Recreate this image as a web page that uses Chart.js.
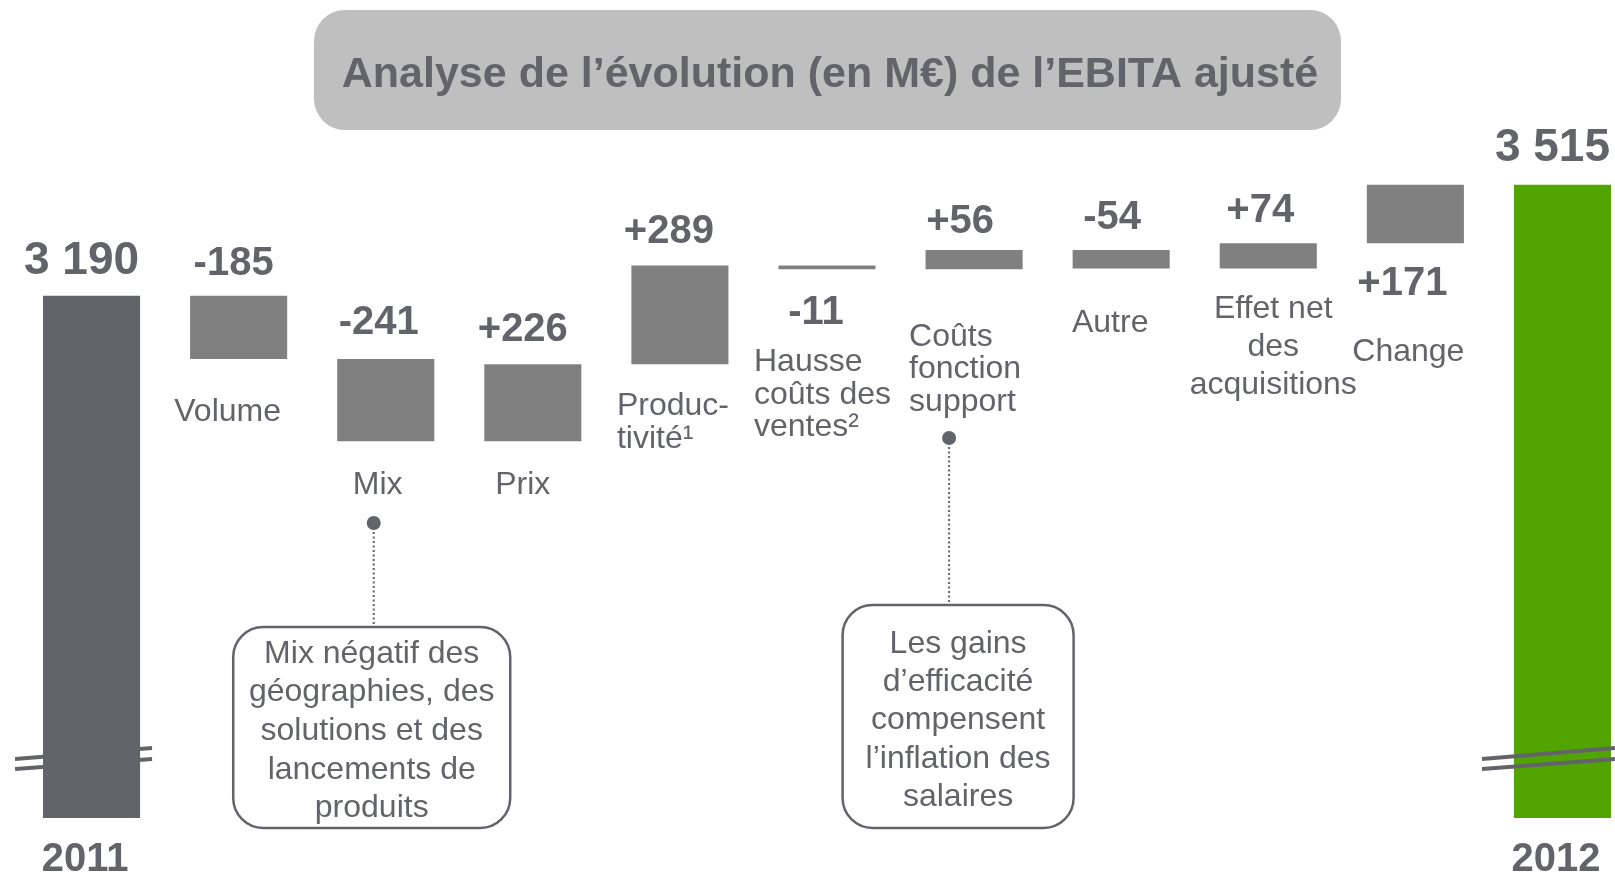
<!DOCTYPE html>
<html lang="fr">
<head>
    <meta charset="UTF-8">
    <meta name="viewport" content="width=device-width, initial-scale=1.0">
    <title>Analyse de l’évolution (en M€) de l’EBITA ajusté</title>

    <script src="https://cdn.jsdelivr.net/npm/chart.js"></script>

    <style>
        html, body { margin: 0; padding: 0; background: #fff; overflow: hidden; }
        #wrap { position: absolute; left: 0; top: 0; width: 1640px; height: 872px; }
    </style>
</head>

<body>

<div id="wrap"><canvas id="ebitaChart"></canvas></div>

<script>
    // ---- data ----
    const title = 'Analyse de l’évolution (en M€) de l’EBITA ajusté';
    const categories = ['2011', 'Volume', 'Mix', 'Prix', 'Productivité', 'Hausse coûts des ventes',
                        'Coûts fonction support', 'Autre', 'Effet net des acquisitions', 'Change', '2012'];
    const labelLines = [
        ['2011'], ['Volume'], ['Mix'], ['Prix'], ['Produc-', 'tivité¹'],
        ['Hausse', 'coûts des', 'ventes²'], ['Coûts', 'fonction', 'support'], ['Autre'],
        ['Effet net', 'des', 'acquisitions'], ['Change'], ['2012']
    ];
    const startValue = 3190;   // 2011
    const endValue = 3515;     // 2012
    const deltas = [-185, -241, 226, 289, -11, 56, -54, 74, 171];
    const noteMix = ['Mix négatif des', 'géographies, des', 'solutions et des', 'lancements de', 'produits'];
    const noteCosts = ['Les gains', 'd’efficacité', 'compensent', 'l’inflation des', 'salaires'];

    // floating bars built from the values
    const bars = [[0, startValue]];
    let running = startValue;
    deltas.forEach(d => { bars.push([running, running + d]); running += d; });
    bars.push([0, endValue]);

    const TEXT = '#636469';
    const FONT = '"Liberation Sans", Arial, sans-serif';
    const barColors = categories.map((c, i) =>
        i === 0 ? '#636469' : (i === categories.length - 1 ? '#52A500' : '#808080'));

    // ---- label layout (offsets from each bar) ----
    const labelLayout = [
        { year: true, dx: -6.5 },
        { align: 'center', dx: -11, dy: [53] },
        { align: 'center', dx: -8, dy: [44] },
        { align: 'center', dx: -10, dy: [44] },
        { align: 'left', dx: -63, dy: [42, 75] },
        { align: 'left', dx: -73, dy: [93, 126, 158] },
        { align: 'left', dx: -65, dy: [68, 100, 133] },
        { align: 'center', dx: -11, dy: [55] },
        { align: 'center', dx: 5, dy: [41, 79, 117] },
        { align: 'center', dx: -7, dy: [109] },
        { year: true, dx: -6.5 }
    ];
    const valueBelow = [5, 9];   // -11 and +171 sit under their bars
    const valueGap = [35, 32, 36, 34, 33, 44, 28, 32, 32, 41, 37];
    const valueDx = [-10, -5, -7, -10, -11, -11, -14, -9, -8, -13, -10];

    const callouts = [
        { index: 2, dotDx: -12, dotY: 523, boxDx: -14, top: 627, bottom: 828, width: 277, firstY: 654, step: 38.6, lines: noteMix },
        { index: 6, dotDx: -25, dotY: 438, boxDx: -16, top: 605, bottom: 828, width: 231, firstY: 644, step: 38.3, lines: noteCosts }
    ];

    function roundRectPath(ctx, x, y, w, h, r) {
        ctx.beginPath();
        ctx.moveTo(x + r, y);
        ctx.lineTo(x + w - r, y);
        ctx.arcTo(x + w, y, x + w, y + r, r);
        ctx.lineTo(x + w, y + h - r);
        ctx.arcTo(x + w, y + h, x + w - r, y + h, r);
        ctx.lineTo(x + r, y + h);
        ctx.arcTo(x, y + h, x, y + h - r, r);
        ctx.lineTo(x, y + r);
        ctx.arcTo(x, y, x + r, y, r);
        ctx.closePath();
    }

    function fmtTotal(v) {
        return String(v).replace(/\B(?=(\d{3})+(?!\d))/g, ' ');
    }

    const decorations = {
        id: 'decorations',
        beforeDraw(chart) {
            const ctx = chart.ctx;
            ctx.save();
            roundRectPath(ctx, 314, 10, 1027, 120, 31);
            ctx.fillStyle = '#BFBFBF';
            ctx.fill();
            ctx.fillStyle = TEXT;
            ctx.font = 'bold 43px ' + FONT;
            ctx.textAlign = 'center';
            ctx.textBaseline = 'middle';
            ctx.fillText(title, 830, 75);
            ctx.restore();
        },
        afterDatasetsDraw(chart) {
            const ctx = chart.ctx;
            const x = chart.scales.x, y = chart.scales.y;
            const area = chart.chartArea;
            const last = categories.length - 1;
            ctx.save();
            ctx.fillStyle = TEXT;
            ctx.strokeStyle = TEXT;
            ctx.textBaseline = 'middle';

            // axis break marks on the two totals
            ctx.lineWidth = 4;
            [[0, -76.5, 60.5], [last, -80.5, 52.5]].forEach(([i, a, b]) => {
                const cx = x.getPixelForValue(i);
                [[-59, -70], [-49, -59]].forEach(([y1, y2]) => {
                    ctx.beginPath();
                    ctx.moveTo(cx + a, area.bottom + y1);
                    ctx.lineTo(cx + b, area.bottom + y2);
                    ctx.stroke();
                });
            });

            bars.forEach((bar, i) => {
                const cx = x.getPixelForValue(i);
                const lo = Math.min(bar[0], bar[1]), hi = Math.max(bar[0], bar[1]);
                const top = y.getPixelForValue(hi);
                const bottom = y.getPixelForValue(lo);
                const isTotal = (i === 0 || i === last);

                // value label
                ctx.textAlign = 'center';
                let txt, vy;
                if (isTotal) {
                    txt = fmtTotal(bar[1]);
                    ctx.font = 'bold 46px ' + FONT;
                    vy = top - valueGap[i];
                } else {
                    const d = deltas[i - 1];
                    txt = (d > 0 ? '+' : '') + d;
                    ctx.font = 'bold 40px ' + FONT;
                    vy = valueBelow.includes(i) ? bottom + valueGap[i] : top - valueGap[i];
                }
                ctx.fillText(txt, cx + valueDx[i], vy);

                // category label
                const lay = labelLayout[i];
                if (lay.year) {
                    ctx.font = 'bold 40px ' + FONT;
                    ctx.textAlign = 'center';
                    ctx.fillText(labelLines[i][0], cx + lay.dx, area.bottom + 42);
                } else {
                    ctx.font = '32px ' + FONT;
                    ctx.textAlign = lay.align;
                    labelLines[i].forEach((line, k) => {
                        ctx.fillText(line, cx + lay.dx, bottom + lay.dy[k]);
                    });
                }
            });

            // callouts
            callouts.forEach(c => {
                const cx = x.getPixelForValue(c.index);
                const dotX = cx + c.dotDx;
                ctx.setLineDash([2, 2.5]);
                ctx.lineWidth = 2;
                ctx.beginPath();
                ctx.moveTo(dotX, c.dotY);
                ctx.lineTo(dotX, c.top);
                ctx.stroke();
                ctx.setLineDash([]);
                ctx.beginPath();
                ctx.arc(dotX, c.dotY, 7, 0, Math.PI * 2);
                ctx.fill();

                const bx = cx + c.boxDx - c.width / 2;
                roundRectPath(ctx, bx, c.top, c.width, c.bottom - c.top, 30);
                ctx.fillStyle = '#fff';
                ctx.fill();
                ctx.lineWidth = 2.5;
                ctx.stroke();
                ctx.fillStyle = TEXT;
                ctx.font = '32px ' + FONT;
                ctx.textAlign = 'center';
                c.lines.forEach((line, k) => {
                    ctx.fillText(line, cx + c.boxDx, c.firstY + k * c.step);
                });
            });
            ctx.restore();
        }
    };

    new Chart(document.getElementById('ebitaChart'), {
        type: 'bar',
        data: {
            labels: categories,
            datasets: [{
                data: bars,
                backgroundColor: barColors,
                barPercentage: 0.66,
                categoryPercentage: 1.0
            }]
        },
        options: {
            responsive: true,
            maintainAspectRatio: false,
            animation: false,
            layout: { padding: { left: 18, right: 4, top: 121, bottom: 54 } },
            plugins: { legend: { display: false }, tooltip: { enabled: false } },
            scales: {
                x: { display: false },
                y: { display: false, min: 1661, max: 3702 }
            }
        },
        plugins: [decorations]
    });
</script>

</body>
</html>
